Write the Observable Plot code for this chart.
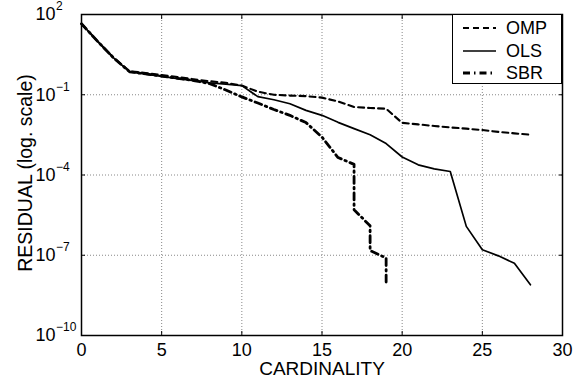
<!DOCTYPE html>
<html>
<head>
<meta charset="utf-8">
<script src="https://cdn.jsdelivr.net/npm/d3@7"></script>
<script src="https://cdn.jsdelivr.net/npm/@observablehq/plot@0.6"></script>
<style>
  html, body { margin: 0; padding: 0; background: #fff; }
  #wrap { position: relative; width: 588px; height: 385px; font-family: "Liberation Sans", Arial, Helvetica, sans-serif; }
  #legend { position: absolute; left: 452px; top: 14px; width: 108px; height: 68px; border: 1px solid #000; background: #fff; }
  .item { position: absolute; left: 0; height: 20px; display: flex; align-items: center; }
  .item span { font-size: 18px; margin-left: 10px; line-height: 20px; }
</style>
</head>
<body>
<div id="wrap"></div>
<script>
// ---- data ----
const cardinality = [0,1,2,3,4,5,6,7,8,9,10,11,12,13,14,15,16,17,18,19,20,21,22,23,24,25,26,27,28];
const ompResidual = [45,10,2.4,0.76,0.65,0.54,0.46,0.38,0.32,0.28,0.22,0.13,0.10,0.093,0.089,0.078,0.056,0.035,0.032,0.030,0.0089,0.0078,0.0068,0.0060,0.0054,0.0048,0.0041,0.0036,0.0032];
const olsResidual = [45,10,2.4,0.72,0.59,0.49,0.40,0.34,0.28,0.25,0.22,0.085,0.065,0.046,0.026,0.017,0.0093,0.0054,0.0032,0.0015,4.7e-4,2.4e-4,1.7e-4,1.35e-4,1.2e-6,1.6e-7,9.5e-8,5.0e-8,7.9e-9];
const sbrCardinality = [0,1,2,3,4,5,6,7,8,9,10,11,12,13,14,15,16,17,17,18,18,19,19];
const sbrResidual = [45,10,2.4,0.72,0.60,0.50,0.41,0.34,0.26,0.15,0.083,0.049,0.028,0.017,0.0091,0.0026,4.5e-4,2.5e-4,5.0e-6,1.26e-6,1.5e-7,7.9e-8,1.0e-8];

const xTicks = [0,5,10,15,20,25,30];
const yTicks = [1e2,1e-1,1e-4,1e-7,1e-10];
const yExponents = ["2","\u22121","\u22124","\u22127","\u221210"];
const seriesNames = ["OMP","OLS","SBR"];
const xLabel = "CARDINALITY";
const yLabel = "RESIDUAL (log. scale)";

// styles
const styles = {
  OMP: {strokeWidth: 2.1, dash: "6,4"},
  OLS: {strokeWidth: 1.7, dash: null},
  SBR: {strokeWidth: 2.8, dash: "7,4,1.5,4"}
};

const omp = cardinality.map((c,i) => ({x: c, y: ompResidual[i]}));
const ols = cardinality.map((c,i) => ({x: c, y: olsResidual[i]}));
const sbr = sbrCardinality.map((c,i) => ({x: c, y: sbrResidual[i]}));
const yTickData = yTicks.map((v,i) => ({v, e: yExponents[i]}));

const font = "'Liberation Sans', Arial, Helvetica, sans-serif";

const chart = Plot.plot({
  width: 588, height: 385,
  marginLeft: 81, marginRight: 26, marginTop: 14, marginBottom: 50,
  x: {domain: [0, 30]},
  y: {type: "log", domain: [1e-10, 1e2]},
  style: {fontFamily: font, background: "white", color: "black", overflow: "visible"},
  marks: [
    Plot.gridX(xTicks.slice(1,-1), {stroke: "#888", strokeOpacity: 1, strokeWidth: 1, strokeDasharray: "1,2"}),
    Plot.gridY(yTicks.slice(1,-1), {stroke: "#888", strokeOpacity: 1, strokeWidth: 1, strokeDasharray: "1,2"}),
    Plot.line(omp, {x: "x", y: "y", stroke: "black", strokeWidth: styles.OMP.strokeWidth, strokeDasharray: styles.OMP.dash}),
    Plot.line(ols, {x: "x", y: "y", stroke: "black", strokeWidth: styles.OLS.strokeWidth}),
    Plot.line(sbr, {x: "x", y: "y", stroke: "black", strokeWidth: styles.SBR.strokeWidth, strokeDasharray: styles.SBR.dash}),
    Plot.frame({stroke: "black", strokeWidth: 1.5}),
    Plot.axisX({anchor: "bottom", ticks: xTicks, tickSize: -4, tickFormat: () => "", label: null}),
    Plot.axisX({anchor: "top", ticks: xTicks, tickSize: -4, tickFormat: () => "", label: null}),
    Plot.axisY({anchor: "left", ticks: yTicks, tickSize: -4, tickFormat: () => "", label: null}),
    Plot.axisY({anchor: "right", ticks: yTicks, tickSize: -4, tickFormat: () => "", label: null}),
    // x tick labels
    Plot.text(xTicks, {x: d => d, frameAnchor: "bottom", dy: 14.5, text: d => String(d), fontSize: 18, fill: "black", textAnchor: "middle", lineAnchor: "middle"}),
    // y tick labels: base and exponent
    Plot.text(yTickData, {y: "v", frameAnchor: "left", dx: -46, text: () => "10", textAnchor: "start", lineAnchor: "middle", fontSize: 18, fill: "black"}),
    Plot.text(yTickData, {y: "v", frameAnchor: "left", dx: -25.5, dy: -8, text: "e", textAnchor: "start", lineAnchor: "middle", fontSize: 12, fill: "black"}),
    // axis labels
    Plot.text([xLabel], {frameAnchor: "bottom", dy: 33.5, text: d => d, fontSize: 19, fill: "black", textAnchor: "middle", lineAnchor: "middle"}),
    Plot.text([yLabel], {frameAnchor: "left", dx: -56, dy: -2, rotate: -90, text: d => d, fontSize: 19.5, fill: "black", textAnchor: "middle", lineAnchor: "middle"})
  ]
});

const wrap = document.getElementById("wrap");
wrap.appendChild(chart);

// legend overlay
const legend = document.createElement("div");
legend.id = "legend";
const tops = [2.7, 26, 47.7];
seriesNames.forEach((name, i) => {
  const st = styles[name];
  const item = document.createElement("div");
  item.className = "item";
  item.style.top = tops[i] + "px";
  item.style.left = "10px";
  const svg = d3.create("svg").attr("width", 33).attr("height", 20);
  svg.append("line").attr("x1", 0).attr("x2", 33).attr("y1", 10).attr("y2", 10)
    .attr("stroke", "black").attr("stroke-width", st.strokeWidth)
    .attr("stroke-dasharray", st.dash);
  item.appendChild(svg.node());
  const sp = document.createElement("span");
  sp.textContent = name;
  item.appendChild(sp);
  legend.appendChild(item);
});
wrap.appendChild(legend);
</script>
</body>
</html>
